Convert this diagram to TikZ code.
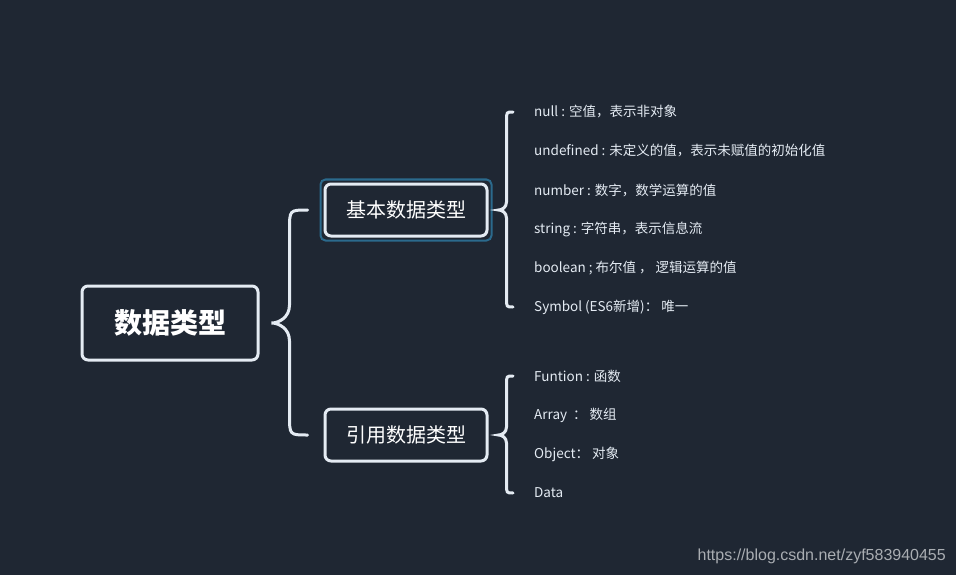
\documentclass[tikz,border=0pt]{standalone}
\usepackage{fontspec}
\setmainfont{Noto Sans CJK SC}
\newfontfamily\wmfont{Liberation Sans}
\usepackage{xcolor}
\usetikzlibrary{calc}

\definecolor{bgdark}{HTML}{1F2733}
\definecolor{linewhite}{HTML}{E4EBF3}
\definecolor{selblue}{HTML}{2B6A8D}
\definecolor{wmgray}{HTML}{A9ADB2}

\newcommand{\mmbrace}[4]{%
	\draw[brace] let \p1=(#2), \p2=(#3), \p3=(#4) in
		(\p2) .. controls (\x1+#1pt,\y2) .. (\x1+#1pt,\y2-1.1*#1pt) -- (\x1+#1pt,\y1+#1pt)
		.. controls (\x1+#1pt,\y1+0.3*#1pt) and (\x1+0.4*#1pt,\y1) .. (\p1)
		.. controls (\x1+0.4*#1pt,\y1) and (\x1+#1pt,\y1-0.3*#1pt) .. (\x1+#1pt,\y1-#1pt)
		-- (\x1+#1pt,\y3+1.1*#1pt) .. controls (\x1+#1pt,\y3) .. (\p3);
}

\begin{document}
\begin{tikzpicture}[x=1pt, y=-1pt,
	topic/.style={draw=linewhite, line width=3pt, rounded corners=6pt, text=white, inner sep=0pt},
	leaf/.style={anchor=west, inner sep=0pt, text=linewhite, font=\fontsize{13.5}{16}\selectfont},
	brace/.style={draw=linewhite, line width=3pt, line cap=round}]
			\fill[bgdark] (0, 0) rectangle (956, 575);
			
			\node[topic, minimum width=176pt, minimum height=74pt, font=\bfseries\fontsize{28}{32}\selectfont] (root) at (170, 323) {数据类型};
			\node[topic, minimum width=162pt, minimum height=52pt, font=\fontsize{20}{24}\selectfont] (basic) at (406, 210) {基本数据类型};
			\node[topic, minimum width=162pt, minimum height=52pt, font=\fontsize{20}{24}\selectfont] (ref) at (406, 435) {引用数据类型};
			\draw[selblue, line width=2pt, rounded corners=5pt] ([shift={(-3pt,-3pt)}]basic.south west) rectangle ([shift={(3pt,3pt)}]basic.north east);
			
			\node[leaf] (null) at (534, 112) {null : 空值，表示非对象};
			\node[leaf] (undef) at (534, 151) {undefined : 未定义的值，表示未赋值的初始化值};
			\node[leaf] (num) at (534, 190) {number : 数字，数学运算的值};
			\node[leaf] (str) at (534, 229) {string : 字符串，表示信息流};
			\node[leaf] (bool) at (534, 268) {boolean ; 布尔值 ， 逻辑运算的值};
			\node[leaf] (sym) at (534, 307) {Symbol (ES6新增)： 唯一};
			
			\node[leaf] (func) at (534, 376) {Funtion : 函数};
			\node[leaf] (arr) at (534, 415) {Array \ ： 数组};
			\node[leaf] (obj) at (534, 454) {Object： 对象};
			\node[leaf] (data) at (534, 493) {Data};
			
			\mmbrace{18}{[xshift=12pt]root.east}{[xshift=-16pt]basic.west}{[xshift=-16pt]ref.west}
			\mmbrace{8}{[xshift=10pt]basic.east}{[xshift=-21pt]null.west}{[xshift=-21pt]sym.west}
			\mmbrace{8}{[xshift=10pt]ref.east}{[xshift=-21pt]func.west}{[xshift=-21pt]data.west}
			
			\node[anchor=east, inner sep=0pt, text=wmgray, font=\wmfont\fontsize{16}{19}\selectfont] (mark) at (946, 556) {https://blog.csdn.net/zyf583940455};
		\end{tikzpicture}
\end{document}
